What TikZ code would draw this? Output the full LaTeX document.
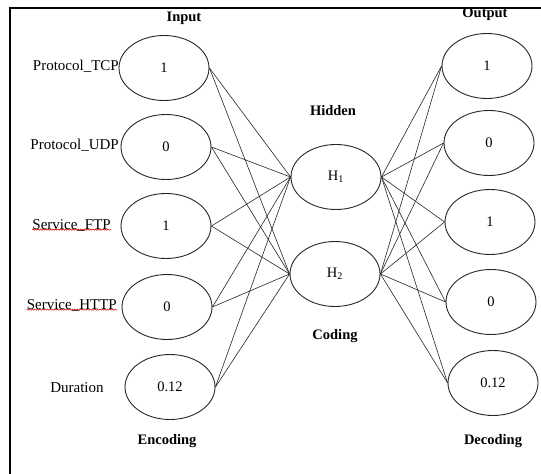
\documentclass[tikz,border=0pt]{standalone}
\usepackage{fontspec}
\setmainfont{Liberation Serif}
\usetikzlibrary{shapes.geometric,decorations.pathmorphing}
\begin{document}
\begin{tikzpicture}[x=1pt,y=-1pt,
  neuron/.style={ellipse, draw=black!85, line width=0.9pt, minimum width=90pt, minimum height=65pt, inner sep=0pt, font=\fontsize{14.5}{16}\selectfont},
  lbl/.style={font=\fontsize{15}{17}\selectfont, inner sep=0pt},
  head/.style={font=\fontsize{14.5}{16}\selectfont\bfseries, inner sep=0pt},
  link/.style={draw=black!85, line width=0.6pt},
  squig/.style={draw=red!80!black, line width=0.5pt, decorate, decoration={snake, segment length=2.5pt, amplitude=0.6pt}}]
\useasboundingbox (0,0) rectangle (541,474);
\fill[white] (0,0) rectangle (541,474);
\draw[line width=2pt] (10,474) -- (10,8) -- (541,8);

% input layer
\node[neuron] (i1) at (164,68) {1};
\node[neuron] (i2) at (166,147) {0};
\node[neuron] (i3) at (166,226) {1};
\node[neuron] (i4) at (167,307) {0};
\node[neuron] (i5) at (170,387) {0.12};
% hidden layer
\node[neuron] (h1) at (336,177) {H\textsubscript{1}};
\node[neuron] (h2) at (335,274) {H\textsubscript{2}};
% output layer
\node[neuron] (o1) at (487,66) {1};
\node[neuron] (o2) at (489,143) {0};
\node[neuron] (o3) at (490,222) {1};
\node[neuron] (o4) at (491,302) {0};
\node[neuron] (o5) at (493,383) {0.12};

% input labels
\node[lbl, anchor=east] (l1) at (119,66) {Protocol\_TCP};
\node[lbl, anchor=east] (l2) at (119,145) {Protocol\_UDP};
\node[lbl, anchor=east] (l3) at (111,225) {Service\_FTP};
\node[lbl, anchor=east] (l4) at (117,305) {Service\_HTTP};
\node[lbl] (l5) at (77,388) {Duration};
\draw[squig] ([yshift=1.5pt]l3.south west) -- ([yshift=1.5pt]l3.south east);
\draw[squig] ([yshift=1.5pt]l4.south west) -- ([yshift=1.5pt]l4.south east);

% headings
\node[head] (tIn) at (184,18) {Input};
\node[head] (tOut) at (485,14) {Output};
\node[head] (tHid) at (333,111) {Hidden};
\node[head] (tCod) at (335,336) {Coding};
\node[head] (tEnc) at (167,441) {Encoding};
\node[head] (tDec) at (493,441) {Decoding};

% connections
\foreach \i in {1,...,5}
  \foreach \h in {1,2}
    \draw[link] (i\i.east) -- (h\h.west);
\foreach \h in {1,2}
  \foreach \o in {1,...,5}
    \draw[link] (h\h.east) -- (o\o.west);
\end{tikzpicture}
\end{document}
